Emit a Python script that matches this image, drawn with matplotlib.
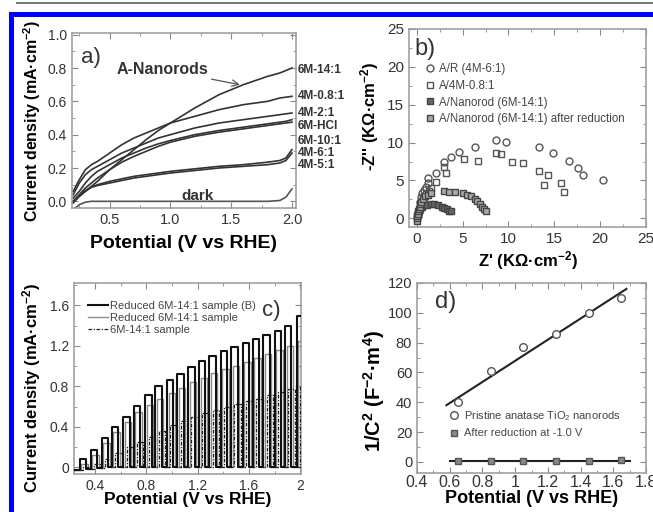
import numpy as np
import matplotlib
matplotlib.use("Agg")
import matplotlib.pyplot as plt
from matplotlib.patches import Rectangle

plt.rcParams['font.family'] = ['Liberation Sans', 'DejaVu Sans']
plt.rcParams['mathtext.fontset'] = 'custom'
plt.rcParams['mathtext.rm'] = 'Liberation Sans'
plt.rcParams['mathtext.bf'] = 'Liberation Sans:bold'
plt.rcParams['mathtext.it'] = 'Liberation Sans:italic'

# ---- panel a: LSV curves ----
a_x = [0.2, 0.25, 0.3, 0.35, 0.4, 0.5, 0.6, 0.7, 0.8, 0.9, 1.0, 1.2, 1.4, 1.6, 1.8, 1.9, 1.95, 2.0]
a_curves = {
    "6M-14:1": [0.0, 0.03, 0.06, 0.09, 0.12, 0.19, 0.25, 0.31, 0.37, 0.425, 0.47, 0.56, 0.64, 0.70, 0.75, 0.77, 0.785, 0.80],
    "4M-0.8:1": [0.06, 0.13, 0.19, 0.22, 0.24, 0.29, 0.34, 0.38, 0.41, 0.44, 0.47, 0.51, 0.55, 0.58, 0.60, 0.62, 0.625, 0.63],
    "4M-2:1": [0.04, 0.11, 0.16, 0.19, 0.21, 0.25, 0.29, 0.32, 0.35, 0.38, 0.40, 0.44, 0.47, 0.49, 0.51, 0.52, 0.525, 0.53],
    "6M-HCl": [0.02, 0.06, 0.11, 0.15, 0.18, 0.22, 0.26, 0.29, 0.32, 0.345, 0.365, 0.40, 0.425, 0.445, 0.465, 0.475, 0.48, 0.49],
    "6M-10:1": [0.0, 0.04, 0.08, 0.11, 0.14, 0.19, 0.235, 0.27, 0.30, 0.33, 0.355, 0.39, 0.415, 0.435, 0.455, 0.465, 0.47, 0.475],
    "4M-6:1": [-0.01, 0.03, 0.06, 0.085, 0.10, 0.12, 0.135, 0.15, 0.16, 0.17, 0.18, 0.195, 0.21, 0.22, 0.235, 0.245, 0.26, 0.31],
    "4M-5:1": [0.0, 0.035, 0.065, 0.085, 0.095, 0.11, 0.125, 0.14, 0.15, 0.16, 0.17, 0.185, 0.20, 0.21, 0.22, 0.23, 0.245, 0.29],
}
a_dark = [-0.05, -0.02, -0.005, 0.0, 0.0, 0.0, 0.0, 0.0, 0.0, 0.0, 0.0, 0.0, 0.0, 0.0, 0.0, 0.005, 0.025, 0.075]
a_label_y = [0.79, 0.63, 0.533, 0.45, 0.365, 0.287, 0.216]

# ---- panel b: Nyquist plots ----
b_ar_x = [0.1, 0.2, 0.3, 0.4, 0.5, 0.6, 0.8, 1.0, 1.2, 1.2, 2.1, 3.0, 3.7, 4.6, 6.3, 8.6, 9.7, 13.3, 14.9, 16.6, 17.6, 18.1, 20.3]
b_ar_y = [0.3, 0.8, 1.5, 2.2, 2.8, 3.3, 3.7, 4.1, 4.7, 5.3, 6.0, 7.4, 8.1, 8.8, 9.4, 10.4, 10.1, 9.4, 8.6, 7.6, 6.6, 5.7, 5.0]
b_408_x = [0.15, 0.3, 0.45, 0.6, 0.8, 1.0, 1.3, 1.5, 2.1, 3.2, 3.0, 5.1, 6.7, 8.6, 9.2, 10.4, 11.6, 13.3, 14.3, 13.9, 15.7, 16.1]
b_408_y = [0.6, 1.2, 1.8, 2.3, 2.8, 3.2, 3.6, 4.0, 4.8, 6.0, 6.8, 7.8, 7.6, 8.6, 8.5, 7.5, 7.3, 6.2, 5.7, 4.4, 4.7, 3.5]
b_nr_x = [0.0, 0.02, 0.05, 0.1, 0.15, 0.2, 0.3, 0.4, 0.5, 0.7, 0.9, 1.2, 1.6, 3.0, 3.5, 4.2, 5.0, 5.5, 5.9, 6.3, 6.6, 6.9, 7.1, 7.3, 7.5]
b_nr_y = [-0.3, 0.0, 0.3, 0.6, 0.9, 1.2, 1.5, 1.9, 2.2, 2.6, 2.9, 3.1, 3.3, 3.6, 3.5, 3.5, 3.3, 3.1, 2.9, 2.6, 2.3, 1.9, 1.5, 1.2, 0.9]
b_red_x = [0.02, 0.05, 0.1, 0.2, 0.35, 0.55, 0.8, 1.1, 1.5, 1.9, 2.3, 2.7, 3.0, 3.3, 3.5, 3.7]
b_red_y = [0.1, 0.4, 0.7, 1.0, 1.3, 1.5, 1.7, 1.8, 1.9, 1.9, 1.7, 1.5, 1.4, 1.2, 1.0, 0.9]
b_labels = ["A/R (4M-6:1)", "A/4M-0.8:1", "A/Nanorod (6M-14:1)", "A/Nanorod (6M-14:1) after reduction"]

# ---- panel c: chopped light LSV ----
c_rise = [0.28, 0.365, 0.45, 0.53, 0.62, 0.70, 0.79, 0.87, 0.96, 1.04, 1.125, 1.21, 1.29, 1.38, 1.46, 1.55, 1.63, 1.71, 1.80, 1.88, 1.97]
c_fall = [0.33, 0.415, 0.50, 0.58, 0.67, 0.75, 0.84, 0.92, 1.01, 1.09, 1.175, 1.26, 1.34, 1.43, 1.51, 1.60, 1.68, 1.76, 1.85, 1.93, 2.02]
c_dark = [-0.03, -0.02, -0.01, 0.0, 0.0, 0.0, 0.0, 0.0, 0.0, 0.0, 0.0, 0.0, 0.0, 0.0, 0.0, 0.0, 0.0, 0.0, 0.0, 0.0, 0.0]
c_B = [0.08, 0.17, 0.29, 0.40, 0.50, 0.61, 0.71, 0.80, 0.86, 0.92, 0.99, 1.05, 1.10, 1.15, 1.19, 1.23, 1.27, 1.31, 1.35, 1.40, 1.49]
c_red = [0.03, 0.12, 0.24, 0.35, 0.45, 0.55, 0.62, 0.68, 0.73, 0.78, 0.84, 0.88, 0.93, 0.97, 1.00, 1.04, 1.08, 1.12, 1.16, 1.20, 1.25]
c_raw = [0.0, 0.03, 0.08, 0.14, 0.20, 0.25, 0.30, 0.36, 0.42, 0.46, 0.50, 0.54, 0.57, 0.60, 0.63, 0.66, 0.68, 0.71, 0.74, 0.77, 0.80]
c_labels = ["Reduced 6M-14:1 sample (B)", "Reduced 6M-14:1 sample", "6M-14:1 sample"]

# ---- panel d: Mott-Schottky ----
d_x = [0.65, 0.85, 1.05, 1.25, 1.45, 1.65]
d_pristine = [40, 61, 77, 86, 100, 110]
d_reduced = [0.3, 0.4, 0.4, 0.4, 0.5, 1.2]
d_fit_x = [0.58, 1.68]
d_fit_y = [38, 116]
d_fit2_x = [0.6, 1.7]
d_fit2_y = [0.6, 0.6]

W, H = 653, 512
fig = plt.figure(figsize=(W / 100, H / 100), dpi=100)


def px_axes(l, t, r, b):
    return fig.add_axes([l / W, 1 - b / H, (r - l) / W, (b - t) / H])


def style(ax, xs, ys):
    for s in ax.spines.values():
        s.set_color('#999999')
        s.set_linewidth(1.1)
    ax.tick_params(which='both', direction='in', top=True, right=True, color='#888888')
    ax.tick_params(which='major', length=4, labelsize=xs, labelcolor='#333333')
    ax.tick_params(axis='y', labelsize=ys)
    ax.tick_params(which='minor', length=2)


# frame decoration
fig.add_artist(Rectangle((16 / W, 1 - 3.5 / H), 1, 2 / H, transform=fig.transFigure, color='#777777', lw=0))
fig.add_artist(Rectangle((9 / W, 1 - 17 / H), 1, 5 / H, transform=fig.transFigure, color='#0000ff', lw=0))
fig.add_artist(Rectangle((9 / W, 0), 5 / W, 1 - 12 / H, transform=fig.transFigure, color='#0000ff', lw=0))

# ---------- a ----------
ax = px_axes(72, 33, 296, 208)
for name, ys in a_curves.items():
    ax.plot(a_x, ys, color='#333333', lw=1.2)
ax.plot(a_x, a_dark, color='#555555', lw=1.2)
ax.set_xlim(0.19, 2.033)
ax.set_ylim(-0.04, 1.01)
ax.set_xticks([0.5, 1.0, 1.5, 2.0])
ax.set_xticks(np.arange(0.25, 2.01, 0.25), minor=True)
ax.set_yticks([0.0, 0.2, 0.4, 0.6, 0.8, 1.0])
ax.set_yticks(np.arange(0.0, 1.01, 0.1), minor=True)
ax.yaxis.set_major_formatter(matplotlib.ticker.FormatStrFormatter('%.1f'))
style(ax, 10.5, 10)
for name, ly in zip(a_curves.keys(), a_label_y):
    ax.text(2.05, ly, name, fontsize=8.5, fontweight='bold', color='#333333', va='center', ha='left', clip_on=False)
ax.text(0.26, 0.86, "a)", fontsize=16, color='#333333', va='center')
ax.annotate("A-Nanorods", xy=(1.57, 0.70), xytext=(0.56, 0.79), fontsize=11.5, fontweight='bold',
            color='#333333', va='center',
            arrowprops=dict(arrowstyle='->', color='#555555', lw=0.9, shrinkA=0, shrinkB=0))
ax.text(1.22, 0.035, "dark", fontsize=11, fontweight='bold', color='#333333', ha='center', va='center')
ax.set_xlabel("Potential (V vs RHE)", fontsize=14, fontweight='bold')
ax.set_ylabel("Current density (mA·cm$^{\\mathbf{-2}}$)", fontsize=11.5, fontweight='bold')
ax.xaxis.set_label_coords(0.5, -0.154)
ax.yaxis.set_label_coords(-0.13, 0.5)

# ---------- b ----------
ax = px_axes(409, 29, 646, 227)
ax.plot(b_ar_x, b_ar_y, 'o', ms=5, mfc='none', mec='#555555', mew=1.0, label=b_labels[0])
ax.plot(b_408_x, b_408_y, 's', ms=5, mfc='none', mec='#555555', mew=1.0, label=b_labels[1])
ax.plot(b_red_x, b_red_y, 's', ms=4, mfc='#666666', mec='#444444', mew=1.0, label=b_labels[2])
ax.plot(b_nr_x, b_nr_y, 's', ms=5, mfc='#aaaaaa', mec='#444444', mew=1.0, label=b_labels[3])
ax.set_xlim(-0.85, 25)
ax.set_ylim(-1.15, 25)
ax.set_xticks([0, 5, 10, 15, 20, 25])
ax.set_yticks([0, 5, 10, 15, 20, 25])
ax.set_xticks(np.arange(0, 25.1, 2.5), minor=True)
ax.set_yticks(np.arange(0, 25.1, 2.5), minor=True)
style(ax, 11, 11)
leg = ax.legend(loc='upper left', bbox_to_anchor=(0.045, 0.85), frameon=False, fontsize=8.3,
                handletextpad=0.3, labelspacing=0.4, borderaxespad=0, handlelength=1.0)
for t in leg.get_texts():
    t.set_color('#444444')
ax.text(-0.3, 22.4, "b)", fontsize=17, color='#333333', va='center')
ax.set_xlabel("Z' (KΩ·cm$^{\\mathbf{-2}}$)", fontsize=12, fontweight='bold')
ax.set_ylabel("-Z'' (KΩ·cm$^{\\mathbf{-2}}$)", fontsize=12, fontweight='bold')
ax.xaxis.set_label_coords(0.5, -0.111)
ax.yaxis.set_label_coords(-0.118, 0.56)

# ---------- c ----------
ax = px_axes(74, 283, 301, 474)


def chopped(rise, fall, dark, level, shift):
    xs, ys = [0.22], [dark[0]]
    for i in range(len(rise)):
        xs += [rise[i] + shift, rise[i] + shift, fall[i] + shift, fall[i] + shift]
        nxt = dark[i + 1] if i + 1 < len(dark) else dark[-1]
        ys += [dark[i], level[i], level[i], nxt]
    return xs, ys


x1, y1 = chopped(c_rise, c_fall, c_dark, c_B, 0.0)
x2, y2 = chopped(c_rise, c_fall, c_dark, c_red, 0.012)
x3, y3 = chopped(c_rise, c_fall, c_dark, c_raw, 0.026)
ax.plot(x2, y2, color='#8a8a8a', lw=1.0, label=c_labels[1], zorder=2)
ax.plot(x3, y3, color='#222222', lw=0.9, ls=(0, (3, 1.2, 1, 1.2)), label=c_labels[2], zorder=3)
ax.plot(x1, y1, color='#111111', lw=1.5, label=c_labels[0], zorder=4)
ax.set_xlim(0.235, 2.005)
ax.set_ylim(-0.065, 1.82)
ax.set_xticks([0.4, 0.8, 1.2, 1.6, 2.0])
ax.set_xticklabels(['0.4', '0.8', '1.2', '1.6', '2'])
ax.set_xticks(np.arange(0.4, 2.01, 0.2), minor=True)
ax.set_yticks([0, 0.4, 0.8, 1.2, 1.6])
ax.set_yticklabels(['0', '0.4', '0.8', '1.2', '1.6'])
ax.set_yticks(np.arange(0, 1.81, 0.2), minor=True)
style(ax, 10, 10)
h, l = ax.get_legend_handles_labels()
order = [2, 0, 1]
leg = ax.legend([h[i] for i in order], [l[i] for i in order], loc='upper left', bbox_to_anchor=(0.04, 0.93),
                frameon=False, fontsize=8, handletextpad=0.2, labelspacing=0.2, borderaxespad=0,
                handlelength=1.8)
for t in leg.get_texts():
    t.set_color('#444444')
ax.text(1.70, 1.55, "c)", fontsize=16, color='#333333', va='center')
ax.set_xlabel("Potential (V vs RHE)", fontsize=12.5, fontweight='bold')
ax.set_ylabel("Current density (mA·cm$^{\\mathbf{-2}}$)", fontsize=12, fontweight='bold')
ax.xaxis.set_label_coords(0.5, -0.094)
ax.yaxis.set_label_coords(-0.137, 0.45)

# ---------- d ----------
ax = px_axes(417, 283, 646, 473)
ax.plot(d_fit_x, d_fit_y, color='#222222', lw=1.5)
ax.plot(d_fit2_x, d_fit2_y, color='#222222', lw=1.5)
ax.plot(d_x, d_pristine, 'o', ms=5.5, mfc='white', mec='#555555', mew=1.0, label="Pristine anatase TiO$_2$ nanorods")
ax.plot(d_x, d_reduced, 's', ms=4.5, mfc='#888888', mec='#555555', mew=1.0, label="After reduction at -1.0 V")
ax.set_xlim(0.4, 1.8)
ax.set_ylim(-7.5, 120)
ax.set_xticks([0.4, 0.6, 0.8, 1.0, 1.2, 1.4, 1.6, 1.8])
ax.set_xticklabels(['0.4', '0.6', '0.8', '1', '1.2', '1.4', '1.6', '1.8'])
ax.set_yticks([0, 20, 40, 60, 80, 100, 120])
ax.set_xticks(np.arange(0.5, 1.8, 0.2), minor=True)
ax.set_yticks(np.arange(10, 120, 20), minor=True)
style(ax, 11.5, 10.5)
ax.tick_params(axis='x', pad=1.5)
leg = ax.legend(loc='upper left', bbox_to_anchor=(0.12, 0.36), frameon=False, fontsize=8,
                handletextpad=0.4, labelspacing=0.5, borderaxespad=0, handlelength=1.0)
for t in leg.get_texts():
    t.set_color('#444444')
ax.text(0.51, 107, "d)", fontsize=17, color='#333333', va='center')
ax.set_xlabel("Potential (V vs RHE)", fontsize=13, fontweight='bold')
ax.set_ylabel("1/C$^{\\mathbf{2}}$ (F$^{\\mathbf{-2}}$·m$^{\\mathbf{4}}$)", fontsize=14.5, fontweight='bold')
ax.xaxis.set_label_coords(0.5, -0.09)
ax.yaxis.set_label_coords(-0.131, 0.43)

fig.savefig("out.png", dpi=100)
